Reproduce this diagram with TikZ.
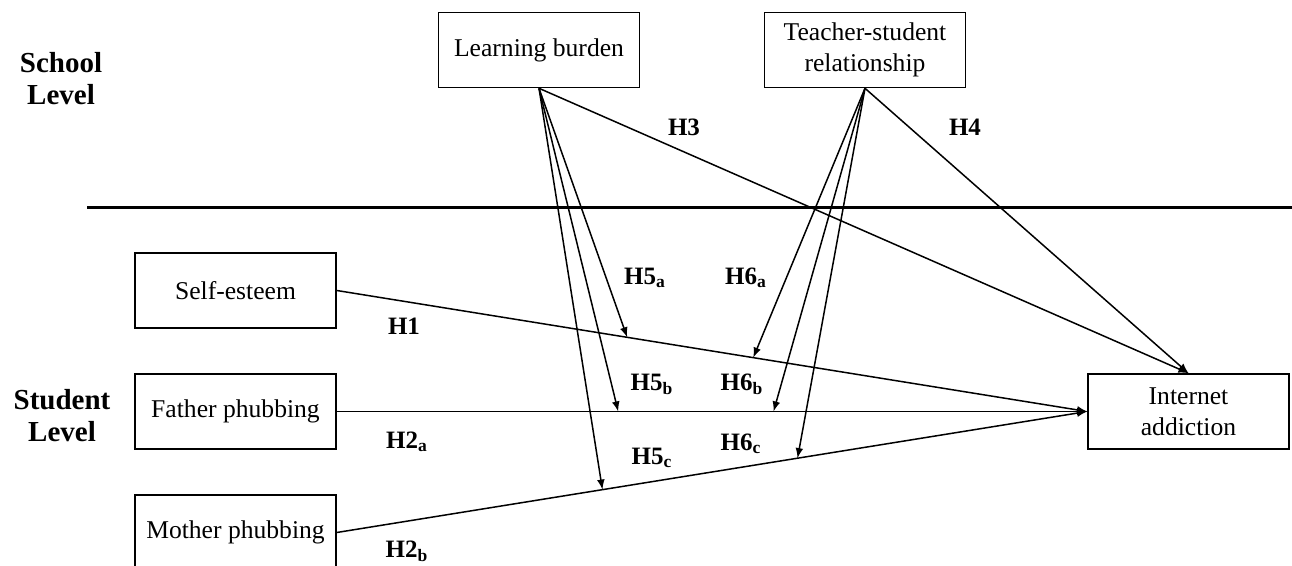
\documentclass[tikz,border=0pt]{standalone}
\usepackage{fontspec}
\setmainfont{Liberation Serif}
\usepackage{tikz}
\usetikzlibrary{arrows}

\begin{document}
\begin{tikzpicture}[x=0.5pt,y=-0.5pt,
    box/.style={draw,line width=0.8pt,minimum width=100.5pt,minimum height=37.5pt,
        inner sep=0pt,align=center,font=\fontsize{12.8}{15.5}\selectfont},
    lvl/.style={align=center,font=\bfseries\fontsize{14.5}{16}\selectfont},
    hyp/.style={font=\bfseries\fontsize{12.5}{14}\selectfont}]
\useasboundingbox (0,0) rectangle (1292,566);
\fill[white] (0,0) rectangle (1292,566);
\begin{scope}[>=latex,line width=0.75pt]
    % levels
    \node[lvl] (school) at (61,79) {School\\Level};
    \node[lvl] (student) at (62,415.5) {Student\\Level};
    \draw[line width=1.3pt] (87,207.5) -- (1292,207.5);

    % variables
    \node[box] (lb) at (539,50) {Learning burden};
    \node[box] (ts) at (865,50) {Teacher-student\\relationship};
    \node[box] (se) at (235.5,290.5) {Self-esteem};
    \node[box] (fp) at (235.5,411.5) {Father phubbing};
    \node[box] (mp) at (235.5,532.5) {Mother phubbing};
    \node[box] (ia) at (1188.5,411.5) {Internet\\addiction};

    % main paths
    \draw[->] (se.east) -- (ia.west);
    \draw[->] (fp.east) -- (ia.west);
    \draw[->] (mp.east) -- (ia.west);
    \draw[->] (lb.south) -- (ia.north);
    \draw[->] (ts.south) -- (ia.north);

    % moderation
    \path (se.east) -- (ia.west) coordinate[pos=0.387] (se5) coordinate[pos=0.555] (se6);
    \path (fp.east) -- (ia.west) coordinate[pos=0.375] (fp5) coordinate[pos=0.582] (fp6);
    \path (mp.east) -- (ia.west) coordinate[pos=0.354] (mp5) coordinate[pos=0.614] (mp6);
    \draw[->] (lb.south) -- (se5);
    \draw[->] (lb.south) -- (fp5);
    \draw[->] (lb.south) -- (mp5);
    \draw[->] (ts.south) -- (se6);
    \draw[->] (ts.south) -- (fp6);
    \draw[->] (ts.south) -- (mp6);

    % labels
    \node[hyp] (h1) at (404,326) {H1};
    \node[hyp] (h2a) at (407,442) {H2\textsubscript{a}};
    \node[hyp] (h2b) at (407,551) {H2\textsubscript{b}};
    \node[hyp] (h3) at (684,127) {H3};
    \node[hyp] (h4) at (965,127) {H4};
    \node[hyp] (h5a) at (645,278) {H5\textsubscript{a}};
    \node[hyp] (h5b) at (652,384) {H5\textsubscript{b}};
    \node[hyp] (h5c) at (652,458) {H5\textsubscript{c}};
    \node[hyp] (h6a) at (746,278) {H6\textsubscript{a}};
    \node[hyp] (h6b) at (742,384) {H6\textsubscript{b}};
    \node[hyp] (h6c) at (741,444) {H6\textsubscript{c}};
\end{scope}
\end{tikzpicture}
\end{document}
